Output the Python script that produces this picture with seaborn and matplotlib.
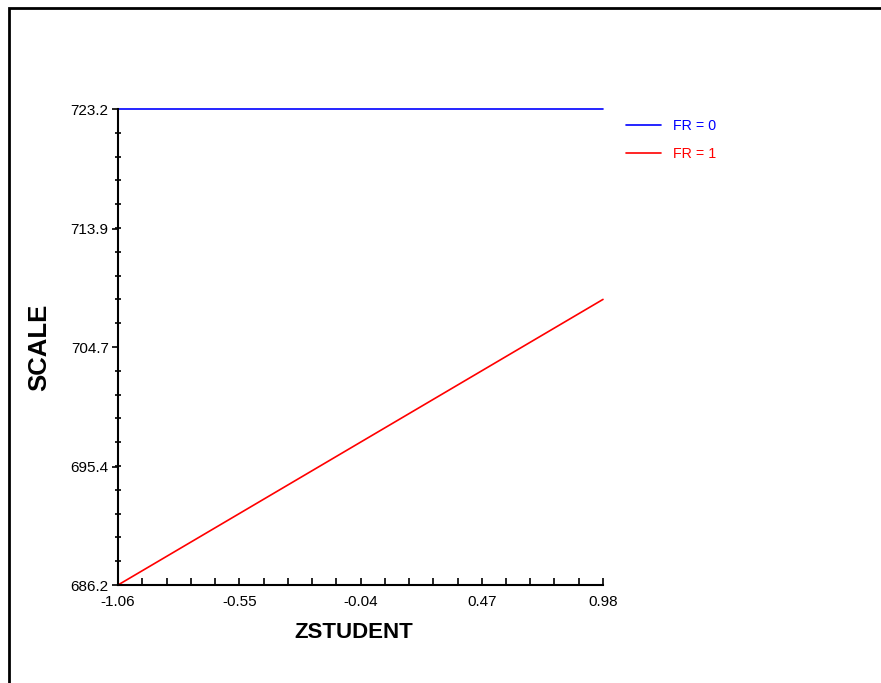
import matplotlib
matplotlib.use("Agg")
import matplotlib.pyplot as plt
import seaborn as sns
import pandas as pd
import numpy as np
from matplotlib.patches import Rectangle
from matplotlib.ticker import FixedLocator

# Data
zstudent = [-1.06, 0.98]
scale_fr0 = [723.2, 723.2]
scale_fr1 = [686.2, 708.4]
groups = ["FR = 0", "FR = 1"]
xticks = [-1.06, -0.55, -0.04, 0.47, 0.98]
yticks = [686.2, 695.4, 704.7, 713.9, 723.2]
colors = ["#0000ff", "#ff0000"]

df = pd.DataFrame({
    "ZSTUDENT": zstudent + zstudent,
    "SCALE": scale_fr0 + scale_fr1,
    "FR": [groups[0]] * 2 + [groups[1]] * 2,
})

sns.set_theme(style="white")
plt.rcParams["font.family"] = ["Liberation Sans", "DejaVu Sans"]

W, H = 881, 683
fig = plt.figure(figsize=(W / 100, H / 100), dpi=100)
ax = fig.add_axes([118 / W, 1 - 585 / H, (603 - 118) / W, (585 - 109) / H])

sns.lineplot(data=df, x="ZSTUDENT", y="SCALE", hue="FR",
             palette=dict(zip(groups, colors)), ax=ax, linewidth=1.2,
             legend=True)
for ln in ax.lines:
    ln.set_clip_on(False)

ax.set_xlim(-1.06, 0.98)
ax.set_ylim(686.2, 723.2)
ax.xaxis.set_major_locator(FixedLocator(xticks))
ax.yaxis.set_major_locator(FixedLocator(yticks))
ax.xaxis.set_minor_locator(FixedLocator(
    [xticks[0] + i * (xticks[-1] - xticks[0]) / 20 for i in range(21)]))
ax.yaxis.set_minor_locator(FixedLocator(
    [yticks[0] + i * (yticks[-1] - yticks[0]) / 20 for i in range(21)]))
ax.set_xticklabels([f"{v:.2f}" for v in xticks])
ax.set_yticklabels([f"{v:.1f}" for v in yticks])

for s in ["top", "right"]:
    ax.spines[s].set_visible(False)
for s in ["left", "bottom"]:
    ax.spines[s].set_color("black")
    ax.spines[s].set_linewidth(1.5)

ax.tick_params(axis="x", which="both", direction="in", length=5, width=1.2,
               color="black", labelsize=11, pad=7.5, bottom=True)
ax.tick_params(axis="y", which="major", direction="out", length=4.5, width=1.2,
               color="black", labelsize=11, pad=2.2, left=True)
ax.tick_params(axis="y", which="minor", direction="inout", length=5, width=1.2,
               color="black", left=True)
for lab in ax.get_xticklabels() + ax.get_yticklabels():
    lab.set_color("black")

ax.set_xlabel("ZSTUDENT", fontsize=16, fontweight="bold", labelpad=9)
ax.set_ylabel("SCALE", fontsize=18.5, fontweight="bold", labelpad=14)
ax.xaxis.label.set_color("black")
ax.yaxis.label.set_color("black")
ax.xaxis.set_label_coords((354 - 118) / (603 - 118), -(632 - 585) / (585 - 109))
ax.xaxis.label.set_va("center")
ax.yaxis.set_label_coords(-(118 - 39) / (603 - 118), 0.5)
ax.yaxis.label.set_va("center")

leg = ax.legend(loc="upper left", bbox_to_anchor=(626 / W, 1 - 119 / H),
                bbox_transform=fig.transFigure, frameon=False, fontsize=10.3,
                handlelength=2.45, handletextpad=0.85, labelspacing=1.0,
                borderpad=0, borderaxespad=0, labelcolor="linecolor",
                title=None)
for h in leg.get_lines():
    h.set_linewidth(1.2)

# outer frame
fig.patches.append(Rectangle((8.5 / W, -0.1), 1.2, 1.1 - 8.5 / H,
                             transform=fig.transFigure, fill=False,
                             edgecolor="black", linewidth=2, zorder=10))

fig.savefig("out.png", dpi=100, facecolor="white")
